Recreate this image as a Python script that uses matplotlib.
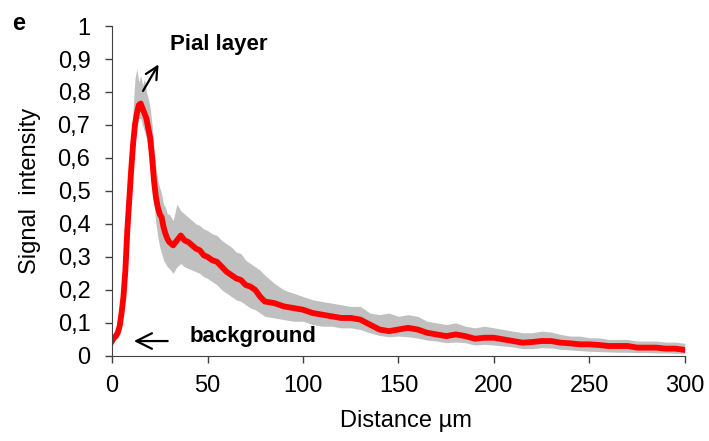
import numpy as np
import matplotlib
matplotlib.use('Agg')
import matplotlib.pyplot as plt

plt.rcParams['font.family'] = ['Liberation Sans', 'DejaVu Sans']

# distance (um)
distance = [0, 1, 2, 3, 4, 5, 6, 7, 8, 9, 10, 11, 12, 13, 14, 15, 16, 17, 18, 19,
            20, 21, 22, 23, 24, 25, 26, 27, 28, 29, 30, 32, 34, 36, 38, 40, 42, 44,
            46, 48, 50, 52.5, 55, 57.5, 60, 62.5, 65, 67.5, 70, 72.5, 75, 77.5, 80,
            85, 90, 95, 100, 105, 110, 115, 120, 125, 130, 135, 140, 145, 150, 155,
            160, 165, 170, 175, 180, 185, 190, 195, 200, 205, 210, 215, 220, 225,
            230, 235, 240, 245, 250, 255, 260, 265, 270, 275, 280, 285, 290, 295, 300]

# mean signal
mean_signal = [0.045, 0.055, 0.06, 0.07, 0.09, 0.13, 0.18, 0.26, 0.38, 0.47, 0.56,
               0.64, 0.70, 0.735, 0.76, 0.765, 0.75, 0.735, 0.72, 0.69, 0.66, 0.60,
               0.53, 0.48, 0.45, 0.43, 0.42, 0.39, 0.37, 0.355, 0.345, 0.335, 0.35,
               0.365, 0.35, 0.345, 0.335, 0.325, 0.32, 0.305, 0.30, 0.29, 0.285, 0.27,
               0.255, 0.245, 0.235, 0.23, 0.215, 0.21, 0.20, 0.18, 0.165, 0.16, 0.15,
               0.145, 0.14, 0.13, 0.125, 0.12, 0.115, 0.115, 0.11, 0.095, 0.08, 0.075,
               0.08, 0.085, 0.08, 0.07, 0.065, 0.06, 0.065, 0.06, 0.052, 0.055, 0.055,
               0.05, 0.045, 0.04, 0.042, 0.045, 0.045, 0.04, 0.038, 0.035, 0.035,
               0.033, 0.03, 0.03, 0.03, 0.025, 0.025, 0.025, 0.022, 0.022, 0.018]

# upper / lower edge of the grey band
upper_band = [0.055, 0.065, 0.075, 0.085, 0.105, 0.15, 0.21, 0.31, 0.43, 0.53, 0.63,
              0.74, 0.84, 0.87, 0.83, 0.85, 0.82, 0.84, 0.80, 0.78, 0.75, 0.70,
              0.63, 0.57, 0.53, 0.51, 0.49, 0.46, 0.45, 0.43, 0.43, 0.41, 0.46,
              0.44, 0.43, 0.42, 0.41, 0.40, 0.395, 0.385, 0.38, 0.37, 0.365, 0.35,
              0.34, 0.33, 0.315, 0.31, 0.29, 0.28, 0.27, 0.26, 0.245, 0.22, 0.20,
              0.19, 0.18, 0.17, 0.165, 0.16, 0.155, 0.15, 0.15, 0.13, 0.125, 0.13,
              0.12, 0.125, 0.12, 0.105, 0.10, 0.095, 0.10, 0.09, 0.085, 0.09, 0.085,
              0.08, 0.075, 0.07, 0.07, 0.075, 0.072, 0.065, 0.06, 0.06, 0.055,
              0.055, 0.05, 0.05, 0.05, 0.045, 0.045, 0.045, 0.042, 0.042, 0.038]

lower_band = [0.035, 0.045, 0.05, 0.058, 0.075, 0.11, 0.15, 0.22, 0.33, 0.42, 0.51,
              0.59, 0.66, 0.70, 0.72, 0.72, 0.70, 0.68, 0.66, 0.63, 0.60, 0.54,
              0.46, 0.40, 0.36, 0.33, 0.31, 0.29, 0.28, 0.27, 0.265, 0.25, 0.27,
              0.28, 0.27, 0.265, 0.26, 0.255, 0.25, 0.24, 0.235, 0.225, 0.215, 0.20,
              0.19, 0.18, 0.17, 0.165, 0.155, 0.145, 0.14, 0.13, 0.12, 0.115, 0.11,
              0.105, 0.105, 0.095, 0.09, 0.09, 0.085, 0.085, 0.08, 0.07, 0.062, 0.058,
              0.06, 0.058, 0.054, 0.048, 0.045, 0.04, 0.042, 0.04, 0.033, 0.035, 0.033,
              0.03, 0.027, 0.022, 0.022, 0.025, 0.024, 0.02, 0.018, 0.016, 0.014,
              0.013, 0.012, 0.011, 0.011, 0.01, 0.01, 0.009, 0.009, 0.008, 0.008]

y_ticks = [0, 0.1, 0.2, 0.3, 0.4, 0.5, 0.6, 0.7, 0.8, 0.9, 1]
y_tick_labels = ['0', '0,1', '0,2', '0,3', '0,4', '0,5', '0,6', '0,7', '0,8', '0,9', '1']
x_ticks = [0, 50, 100, 150, 200, 250, 300]

fig = plt.figure(figsize=(7.09, 4.41), dpi=100)
ax = fig.add_axes([0.158, 0.193, 0.808, 0.748])

ax.fill_between(distance, lower_band, upper_band, color='#c0c0c0', linewidth=0)
ax.plot(distance, mean_signal, color='#ff0000', linewidth=4.2, solid_joinstyle='round')

ax.set_xlim(0, 300)
ax.set_ylim(0, 1)
ax.set_xticks(x_ticks)
ax.set_yticks(y_ticks)
ax.set_yticklabels(y_tick_labels)
ax.tick_params(labelsize=17, length=5, width=1, color='#404040')
ax.tick_params(axis='y', pad=10.5)
ax.tick_params(axis='x', pad=9)
ax.spines['top'].set_visible(False)
ax.spines['right'].set_visible(False)
ax.spines['left'].set_color('#404040')
ax.spines['bottom'].set_color('#404040')

ax.set_xlabel('Distance µm', fontsize=17, va='top')
ax.xaxis.set_label_coords(0.513, -0.165)
ax.set_ylabel('Signal  intensity', fontsize=17, va='center')
ax.yaxis.set_label_coords(-0.143, 0.5)

ax.annotate('', xy=(25.1, 0.891), xytext=(15.5, 0.796),
            arrowprops=dict(arrowstyle='->', color='black', lw=1.6, mutation_scale=22))
ax.text(30.4, 0.945, 'Pial layer', fontsize=16, fontweight='bold', va='center')

ax.annotate('', xy=(10.0, 0.045), xytext=(30.6, 0.045),
            arrowprops=dict(arrowstyle='->', color='black', lw=1.6, mutation_scale=28))
ax.text(40.8, 0.058, 'background', fontsize=16, fontweight='bold', va='center')

fig.text(0.017, 0.947, 'e', fontsize=17, fontweight='bold', va='center')

plt.savefig('out.png', dpi=100)
